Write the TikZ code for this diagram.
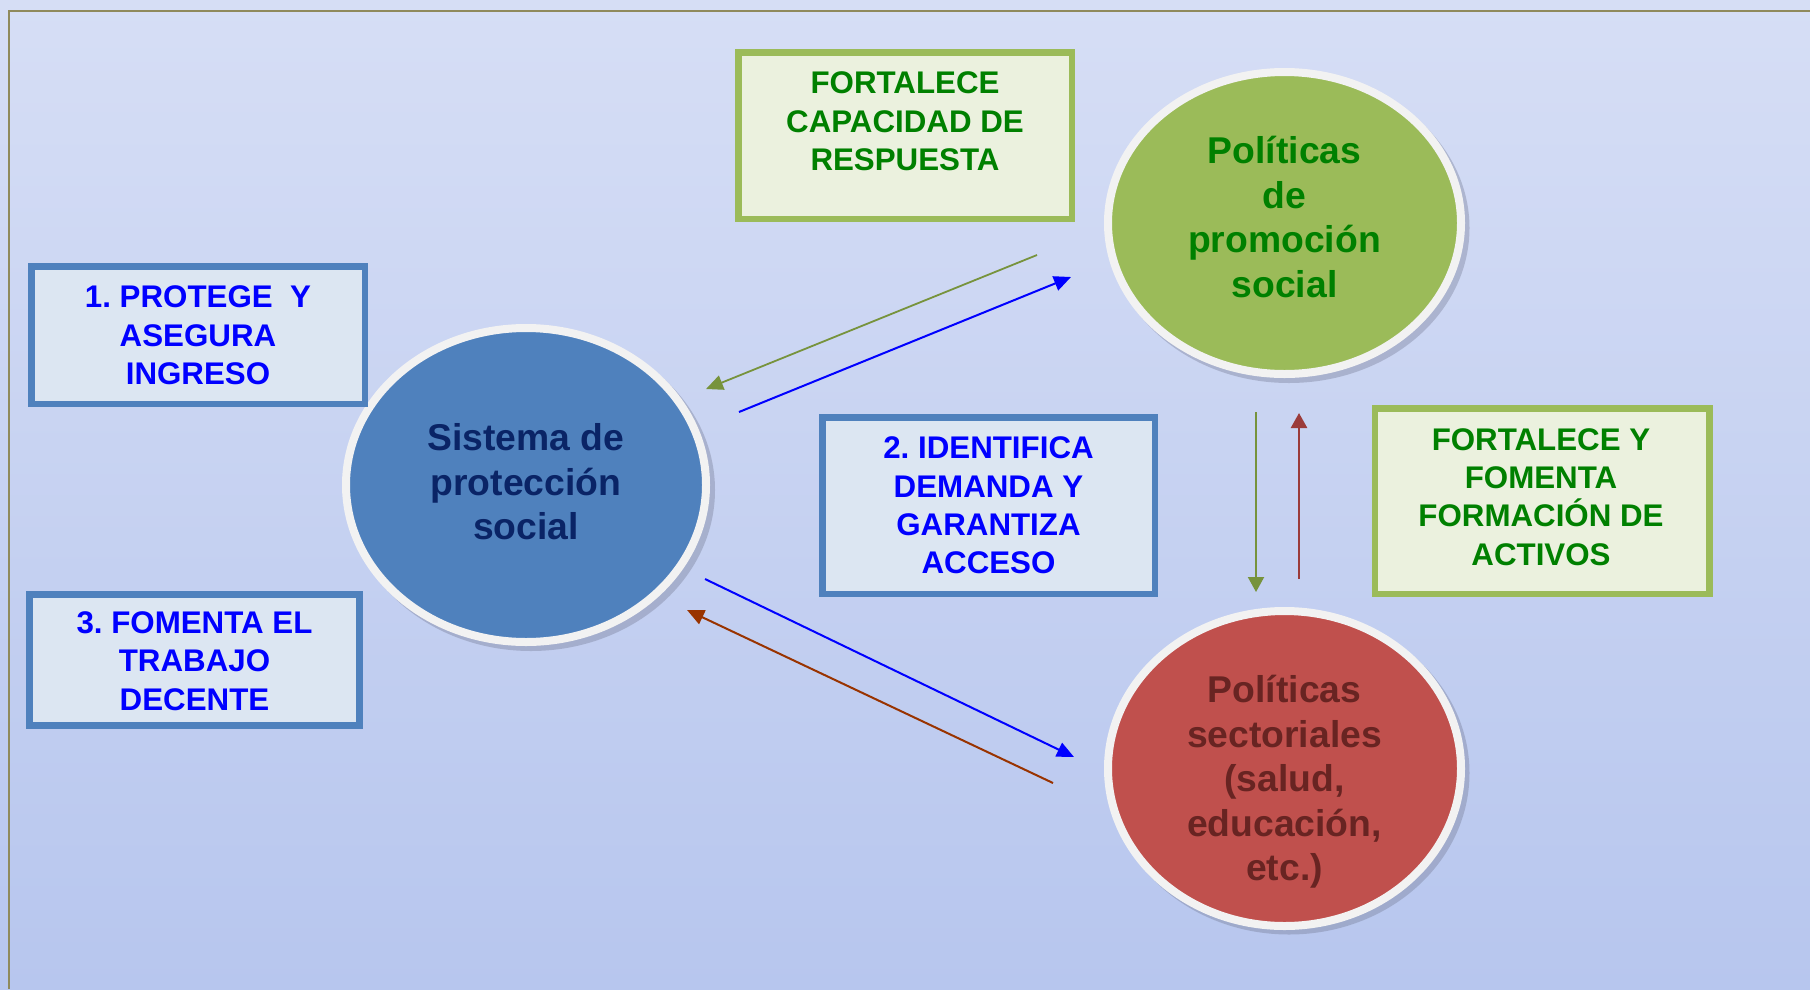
\documentclass[tikz,border=0pt]{standalone}
\usepackage{fontspec}
\setmainfont{Liberation Sans}
\usetikzlibrary{shapes.geometric,arrows.meta}
\definecolor{bgtop}{RGB}{214,222,245}
\definecolor{bgbot}{RGB}{183,198,238}
\definecolor{framec}{RGB}{143,138,92}
\definecolor{bluefill}{RGB}{79,129,189}
\definecolor{greenfill}{RGB}{155,187,89}
\definecolor{redfill}{RGB}{192,80,77}
\definecolor{ringc}{RGB}{242,242,242}
\definecolor{shadc}{RGB}{110,115,140}
\definecolor{navytext}{RGB}{10,36,102}
\definecolor{greentext}{RGB}{0,128,0}
\definecolor{redtext}{RGB}{104,36,34}
\definecolor{bluetext}{RGB}{0,0,255}
\definecolor{bboxfill}{RGB}{220,230,242}
\definecolor{gboxfill}{RGB}{235,241,222}
\definecolor{garrow}{RGB}{119,147,60}
\definecolor{brarrow}{RGB}{153,51,0}
\definecolor{rarrow}{RGB}{155,59,58}
\begin{document}
\frenchspacing
\begin{tikzpicture}[x=1pt,y=-1pt,
 circ/.style={ellipse, draw=ringc, line width=8pt, inner sep=0pt},
 shad/.style={ellipse, fill=shadc, opacity=0.35, inner sep=0pt},
 bbox/.style={rectangle, draw=bluefill, fill=bboxfill, line width=6.5pt, inner sep=0pt},
 gbox/.style={rectangle, draw=greenfill, fill=gboxfill, line width=6.5pt, inner sep=0pt},
 btxt/.style={font=\fontsize{31.3}{38.3}\selectfont\bfseries, align=center, inner sep=0pt},
 etxt/.style={font=\fontsize{37.3}{44.5}\selectfont\bfseries, align=center, inner sep=0pt},
 arr/.style={line width=2pt, -{Triangle[length=17pt,width=15pt]}}
]
\useasboundingbox (0,0) rectangle (1810,989);
\shade[top color=bgtop, bottom color=bgbot] (0,0) rectangle (1810,989);
\draw[framec, line width=2.5pt] (9,989) -- (9,11) -- (1810,11);

% ellipses
\node[shad, minimum width=368pt, minimum height=322pt] (s1) at (531,490) {};
\node[circ, fill=bluefill, minimum width=360pt, minimum height=314pt] (sps) at (526,485) {};
\node[etxt, text=navytext] (tsps) at (526,482) {Sistema de\\protección\\social};

\node[shad, minimum width=361pt, minimum height=310pt] (s2) at (1289,228) {};
\node[circ, fill=greenfill, minimum width=353pt, minimum height=302pt] (ppro) at (1284.5,223) {};
\node[etxt, text=greentext] (tppro) at (1284.5,217) {Políticas\\de\\promoción\\social};

\node[shad, minimum width=361pt, minimum height=323pt] (s3) at (1289,773) {};
\node[circ, fill=redfill, minimum width=353pt, minimum height=315pt] (psec) at (1284.5,768.5) {};
\node[etxt, text=redtext] (tpsec) at (1284.5,782) {Políticas\\sectoriales\\(salud,\\educación,\\etc.)};

% boxes
\node[bbox, minimum width=333.5pt, minimum height=137.5pt] (b1) at (198,335) {};
\node[btxt, text=bluetext] (tb1) at (198,335.5) {1. PROTEGE\ \ Y\\ASEGURA\\INGRESO};

\node[bbox, minimum width=330pt, minimum height=131pt] (b3) at (194.5,660) {};
\node[btxt, text=bluetext] (tb3) at (194.5,661) {3. FOMENTA EL\\TRABAJO\\DECENTE};

\node[bbox, minimum width=332.5pt, minimum height=176.5pt] (b2) at (988.5,505.5) {};
\node[btxt, text=bluetext] (tb2) at (988.5,505.5) {2. IDENTIFICA\\DEMANDA Y\\GARANTIZA\\ACCESO};

\node[gbox, minimum width=333.5pt, minimum height=166.5pt] (bc) at (905,135.5) {};
\node[btxt, text=greentext] (tbc) at (905,121.5) {FORTALECE\\CAPACIDAD DE\\RESPUESTA};

\node[gbox, minimum width=334.5pt, minimum height=185.5pt] (bf) at (1542,501) {};
\node[btxt, text=greentext] (tbf) at (1541,497) {FORTALECE Y\\FOMENTA\\FORMACIÓN DE\\ACTIVOS};

% arrow end points
\coordinate (g1a) at (1037,255);
\coordinate (g1b) at (706,389);
\coordinate (b1a) at (739,412);
\coordinate (b1b) at (1071,277);
\coordinate (b2a) at (705,579);
\coordinate (b2b) at (1074,757);
\coordinate (r1a) at (1053,783);
\coordinate (r1b) at (687,610);
\coordinate (gva) at (1256,412);
\coordinate (gvb) at (1256,592);
\coordinate (rva) at (1299,579);
\coordinate (rvb) at (1299,413);

\draw[arr, garrow, line width=1.8pt] (g1a) -- (g1b);
\draw[arr, bluetext] (b1a) -- (b1b);
\draw[arr, bluetext] (b2a) -- (b2b);
\draw[arr, brarrow] (r1a) -- (r1b);
\draw[arr, garrow, -{Triangle[length=15pt,width=16pt]}] (gva) -- (gvb);
\draw[arr, rarrow, line width=2.5pt, -{Triangle[length=15pt,width=16pt]}] (rva) -- (rvb);
\end{tikzpicture}
\end{document}
